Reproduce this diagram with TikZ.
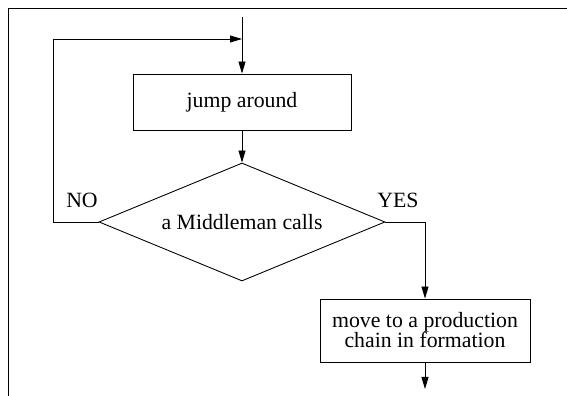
\documentclass[tikz,border=0pt]{standalone}
\usepackage{fontspec}
\setmainfont{Liberation Serif}
\usetikzlibrary{shapes.geometric, arrows.meta, positioning}

\tikzset{
    flowbox/.style={draw, rectangle, inner sep=0pt, align=center},
    decision/.style={draw, diamond, aspect=2.42, inner sep=0pt,
        minimum width=5.72cm, minimum height=2.36cm},
    flow/.style={-{Triangle[length=2.4mm, width=1.4mm]}},
}

\begin{document}
\begin{tikzpicture}[line width=0.5pt, font=\fontsize{12.4}{11.4}\selectfont]
        \useasboundingbox (0,0) rectangle (11.34,7.92);
        \draw (0.17,0) -- (0.17,7.75) -- (11.34,7.75);

        \coordinate (start) at (4.84,7.58);
        \node[flowbox, minimum width=4.36cm, minimum height=1.12cm] (jump) at (4.84,5.88) {jump around};
        \node[decision] (calls) at (4.84,3.48) {a Middleman calls};
        \node[flowbox, minimum width=4.2cm, minimum height=1.26cm] (move) at (8.5,1.31) {move to a production\\chain in formation};
        \coordinate (out) at (8.5,0.14);
        \coordinate (loop) at (1.06,7.14);

        \draw[flow] (start) -- (jump);
        \draw[flow] (jump) -- (calls);
        \draw[flow] (calls.west) -| (loop) -- (loop -| start);
        \draw[flow] (calls.east) -| (move);
        \draw[flow] (move) -- (out);

        \node (no) at (1.64,3.92) {NO};
        \node (yes) at (7.96,3.92) {YES};
    \end{tikzpicture}
\end{document}
